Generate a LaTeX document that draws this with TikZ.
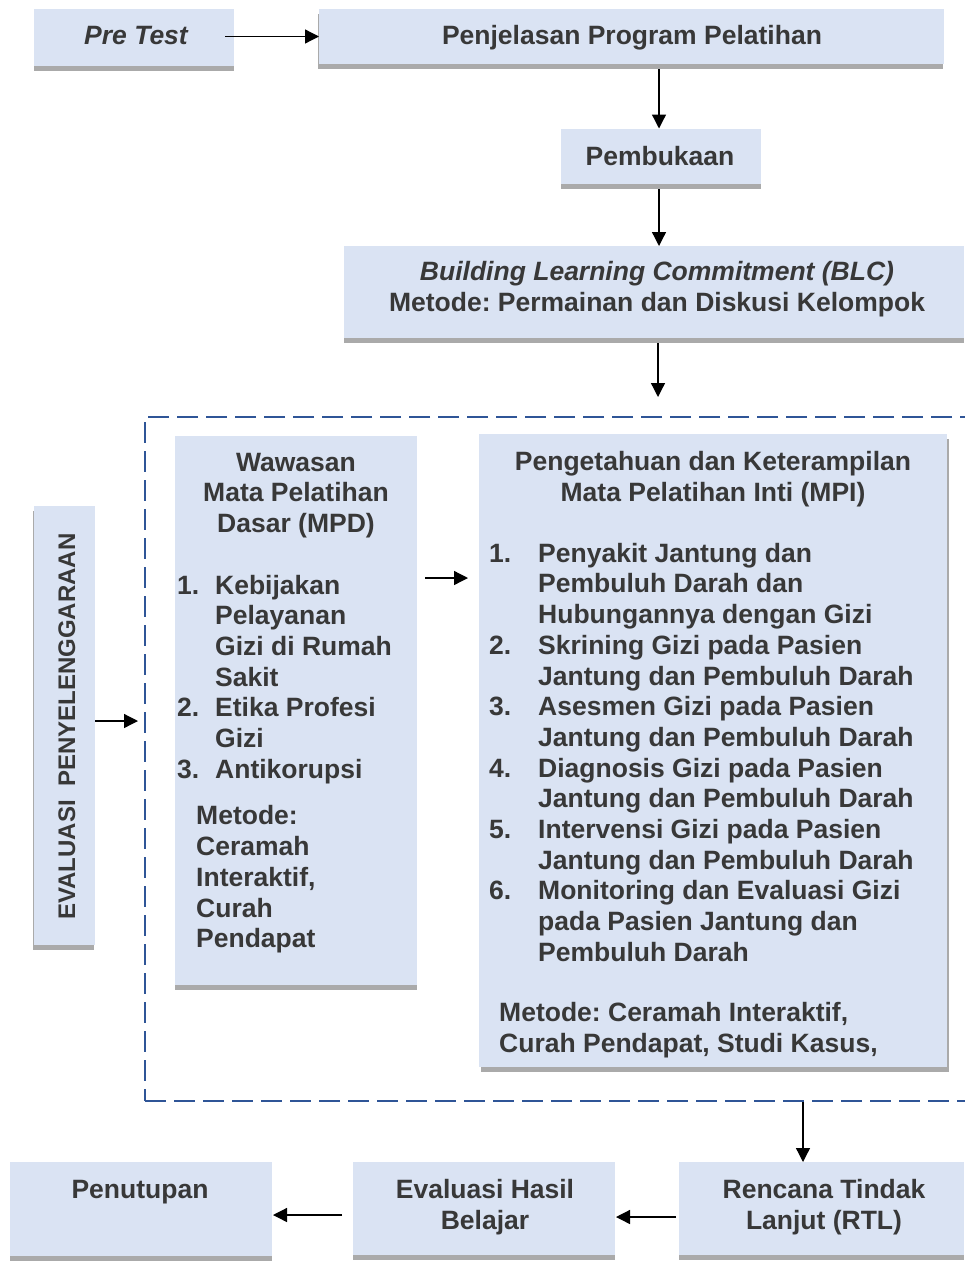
\documentclass[tikz,border=0pt]{standalone}
\usepackage{fontspec}
\setmainfont{Liberation Sans}
\usetikzlibrary{arrows.meta,shadows,calc}
\definecolor{boxfill}{RGB}{218,227,243}
\definecolor{shgray}{RGB}{170,170,170}
\definecolor{txtgray}{RGB}{56,56,56}
\definecolor{dashblue}{RGB}{47,85,151}
\newcommand\myfl{\rule{0pt}{20pt}}
\newcommand\nb[1]{\makebox[38pt][l]{#1}}
\newcommand\nc[1]{\makebox[49pt][l]{#1}}
\frenchspacing
\begin{document}
\begin{tikzpicture}[x=1pt,y=-1pt,
 box/.style={fill=boxfill, draw=none, inner sep=0pt, outer sep=0pt,
   drop shadow={shadow xshift=#1, shadow yshift=-5pt, fill=shgray, opacity=1}},
 box/.default=0pt,
 txt/.style={font=\fontsize{26.5}{30.7}\selectfont\bfseries, text=txtgray, inner sep=0pt},
 arr/.style={draw=black, line width=1.3pt, -{Triangle[length=14pt,width=14pt]}},
 frame/.style={draw=dashblue, line width=2pt, dash pattern=on 21pt off 8pt, inner sep=0pt}]
\clip (0,0) rectangle (965,1261);
% dashed frame
\node[frame, minimum width=830pt, minimum height=684pt] (frame) at (560,759) {};
% boxes
\node[box, minimum width=200pt, minimum height=57pt] (pre) at (134,37.5) {};
\node[box=-1.5pt, minimum width=625pt, minimum height=55pt] (pen) at (631.5,36.5) {};
\node[box, minimum width=200pt, minimum height=55.5pt] (pem) at (661,156.25) {};
\node[box, minimum width=620pt, minimum height=92pt] (blc) at (654,292) {};
\node[box, minimum width=242pt, minimum height=549pt] (mpd) at (296,710.5) {};
\node[box=1.5pt, minimum width=468pt, minimum height=633pt] (mpi) at (713,750.5) {};
\node[box=-1.5pt, minimum width=61pt, minimum height=439pt] (eva) at (64.5,725.5) {};
\node[box, minimum width=285pt, minimum height=93pt] (rtl) at (821.5,1208.5) {};
\node[box, minimum width=262pt, minimum height=93pt] (ehb) at (484,1208.5) {};
\node[box, minimum width=262pt, minimum height=94pt] (put) at (141,1209) {};
% texts
\node[txt, anchor=base] (tpre) at (136,44) {\itshape Pre Test};
\node[txt, anchor=base] (tpen) at (632,44) {Penjelasan Program Pelatihan};
\node[txt, anchor=base] (tpem) at (660,165) {Pembukaan};
\node[txt, anchor=north, align=center] (tblc) at (657,260.5)
 {\myfl{\itshape Building Learning Commitment (BLC)}\\Metode: Permainan dan Diskusi Kelompok};
\node[txt, anchor=north, align=center] (tmpd) at (296,451)
 {\myfl Wawasan\\Mata Pelatihan\\Dasar (MPD)};
\node[txt, anchor=north west, align=left] (lmpd) at (177,573.8)
 {\myfl\nb{1.}Kebijakan\\\nb{}Pelayanan\\\nb{}Gizi di Rumah\\\nb{}Sakit\\\nb{2.}Etika Profesi\\\nb{}Gizi\\\nb{3.}Antikorupsi};
\node[txt, anchor=north west, align=left] (mmpd) at (196,804.7)
 {\myfl Metode:\\Ceramah\\Interaktif,\\Curah\\Pendapat};
\node[txt, anchor=north, align=center] (tmpi) at (713,450.7)
 {\myfl Pengetahuan dan Keterampilan\\Mata Pelatihan Inti (MPI)};
\node[txt, anchor=north west, align=left] (lmpi) at (489,542)
 {\myfl\nc{1.}Penyakit Jantung dan\\\nc{}Pembuluh Darah dan\\\nc{}Hubungannya dengan Gizi\\
  \nc{2.}Skrining Gizi pada Pasien\\\nc{}Jantung dan Pembuluh Darah\\
  \nc{3.}Asesmen Gizi pada Pasien\\\nc{}Jantung dan Pembuluh Darah\\
  \nc{4.}Diagnosis Gizi pada Pasien\\\nc{}Jantung dan Pembuluh Darah\\
  \nc{5.}Intervensi Gizi pada Pasien\\\nc{}Jantung dan Pembuluh Darah\\
  \nc{6.}Monitoring dan Evaluasi Gizi\\\nc{}pada Pasien Jantung dan\\\nc{}Pembuluh Darah};
\node[txt, anchor=north west, align=left] (mmpi) at (499,1001.7)
 {\myfl Metode: Ceramah Interaktif,\\Curah Pendapat, Studi Kasus,};
\node[txt, font=\fontsize{24}{28}\selectfont\bfseries, rotate=90, anchor=base] (teva) at (75,726.5)
 {EVALUASI\ \ PENYELENGGARAAN};
\node[txt, anchor=base] (tput) at (140,1198.7) {Penutupan};
\node[txt, anchor=north, align=center] (tehb) at (485,1178.7) {\myfl Evaluasi Hasil\\Belajar};
\node[txt, anchor=north, align=center] (trtl) at (824,1178.7) {\myfl Rencana Tindak\\Lanjut (RTL)};
% arrows
\draw[arr] ($(pen.west -| pre.east)+(-9,0)$) -- (pen.west);
\draw[arr] ($(pen.south -| pem.north)+(-2,5)$) -- ($(pem.north)+(-2,0)$);
\draw[arr] ($(pem.south)+(-2,5)$) -- ($(blc.north -| pem.south)+(-2,0)$);
\draw[arr] ($(blc.south)+(4,5)$) -- ($(frame.north -| blc.south)+(4,-19)$);
\draw[arr] ($(eva.east)+(0,-4.5)$) -- ($(frame.west |- eva.east)+(-6,-4.5)$);
\draw[arr] ($(mpd.east)+(8,-132.5)$) -- ($(mpi.west |- mpd.east)+(-11,-132.5)$);
\draw[arr] ($(frame.south -| rtl.north)+(-18.5,0)$) -- ($(rtl.north)+(-18.5,0)$);
\draw[arr] ($(rtl.west)+(-3,8.5)$) -- ($(ehb.east |- rtl.west)+(1,8.5)$);
\draw[arr] ($(ehb.west)+(-11,6.5)$) -- ($(put.east |- ehb.west)+(1,6.5)$);
\end{tikzpicture}
\end{document}
